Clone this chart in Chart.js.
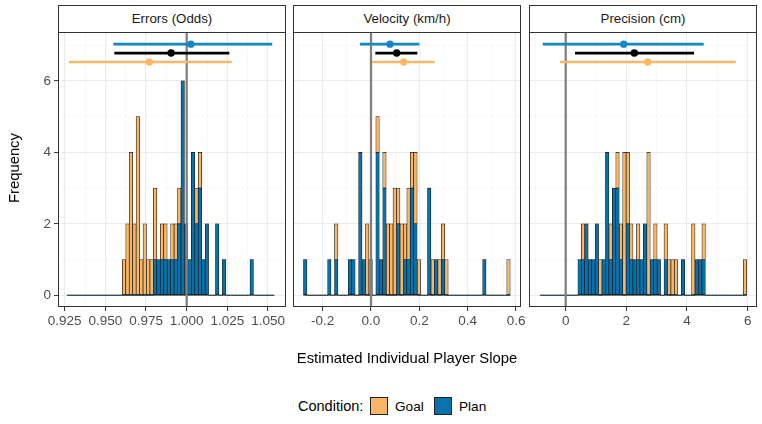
<!DOCTYPE html>
<html>
<head>
<meta charset="utf-8">
<script src="https://cdn.jsdelivr.net/npm/chart.js@4.4.1/dist/chart.umd.min.js"></script>
<style>
  html, body { margin: 0; padding: 0; background: #fff; }
  body { width: 762px; height: 424px; position: relative; overflow: hidden;
         font-family: "Liberation Sans", Arial, sans-serif; color: #000; }
  canvas { position: absolute; }
  .strip { position: absolute; top: 5px; height: 28px; box-sizing: border-box;
           border: 1px solid #333; background: #fff; text-align: center;
           font-size: 13.3px; line-height: 26px; color: #1a1a1a; }
  .txt { position: absolute; white-space: nowrap; font-weight: normal; }
  .key { position: absolute; width: 18px; height: 18px; box-sizing: border-box; border: 1px solid #222; }
</style>
</head>
<body>
<div id="root"></div>
<script>
// ---------- data ----------
const facetTitles = ["Errors (Odds)", "Velocity (km/h)", "Precision (cm)"];
const conditionNames = ["Goal", "Plan"];

// histogram bins (60 bins per facet): left edge of first bin and bin width
const binStart = [0.92649, -0.2793, -0.8474];
const binWidth = [0.002121, 0.014253, 0.11358];

// Errors (Odds) counts per bin
const goalErrors = [0,0,0,0,0,0,0,0,0,0, 0,0,0,0,0,0,1,2,4,2, 5,1,2,1,1,2,0,1,1,0,
                    1,1,1,0,0,0,0,1,1,0, 0,0,0,0,0,0,0,0,0,0, 0,0,0,0,0,0,0,0,0,0];
const planErrors = [0,0,0,0,0,0,0,0,0,0, 0,0,0,0,0,0,0,0,0,0, 0,0,0,0,0,1,1,1,1,1,
                    1,1,2,6,2,1,4,2,3,1, 2,0,0,2,0,1,0,0,0,0, 0,0,0,1,0,0,0,0,0,0];
// Velocity (km/h) counts per bin
const goalVelocity = [0,0,0,0,0,0,0,0,0,1, 0,0,0,0,0,0,0,0,2,1, 0,1,0,1,2,2,3,1,2,1,
                      2,1,2,1,0,0,0,1,0,1, 1,1,0,0,0,0,0,0,0,0, 0,0,0,0,0,0,0,0,0,1];
const planVelocity = [1,0,0,0,0,0,0,1,0,1, 0,0,0,1,1,0,4,1,0,0, 0,4,1,3,0,0,0,2,0,1,
                      1,3,2,0,0,0,3,0,1,0, 1,0,0,0,0,0,0,0,0,0, 0,0,1,0,0,0,0,0,0,0];
// Precision (cm) counts per bin
const goalPrecision = [0,0,0,0,0,0,0,0,0,0, 0,0,1,0,0,0,0,1,0,0, 1,0,1,1,4,2,1,0,1,0,
                       0,4,0,1,0,0,1,1,1,1, 0,0,0,0,2,0,0,1,0,0, 0,0,0,0,0,0,0,0,0,1];
const planPrecision = [0,0,0,0,0,0,0,0,0,0, 0,1,1,2,1,1,2,0,1,4, 1,3,3,1,0,2,1,1,1,1,
                       2,0,1,1,1,0,1,0,0,0, 0,1,0,0,0,1,1,1,0,0, 0,0,0,0,0,0,0,0,0,0];

// estimates [point, low, high] per facet
const planEstimate    = [[1.0026, 0.9549, 1.0526], [0.0786, -0.0455, 0.2000], [1.912, -0.758, 4.550]];
const overallEstimate = [[0.9904, 0.9555, 1.0262], [0.1062,  0.0179, 0.1917], [2.263,  0.307, 4.230]];
const goalEstimate    = [[0.9770, 0.9276, 1.0277], [0.1352,  0.0041, 0.2634], [2.703, -0.188, 5.605]];
const estimateRows = [7.03, 6.78, 6.53];   // plan, overall, goal

// reference lines
const refValues = [1, 0, 0];

// axis ticks
const xMajorErrors = [0.925, 0.950, 0.975, 1.000, 1.025, 1.050];
const xLabelErrors = ["0.925", "0.950", "0.975", "1.000", "1.025", "1.050"];
const xMinorErrors = [0.9375, 0.9625, 0.9875, 1.0125, 1.0375];
const xMajorVelocity = [-0.2, 0.0, 0.2, 0.4, 0.6];
const xLabelVelocity = ["-0.2", "0.0", "0.2", "0.4", "0.6"];
const xMinorVelocity = [-0.3, -0.1, 0.1, 0.3, 0.5];
const xMajorPrecision = [0, 2, 4, 6];
const xLabelPrecision = ["0", "2", "4", "6"];
const xMinorPrecision = [-1, 1, 3, 5];
const yMajor = [0, 2, 4, 6];
const yLabels = ["0", "2", "4", "6"];
const yMinor = [1, 3, 5, 7];

// axis limits
const xLimits = [[0.92087, 1.06105], [-0.3227, 0.6206], [-1.210, 6.307]];
const yLimits = [-0.33, 7.37];

// ---------- style ----------
const GOAL_FILL = "#F9B666";
const PLAN_FILL = "#0872AC";
const GOAL_LINE = "#FDB866";
const PLAN_LINE = "#1388C6";
const ALL_LINE = "#000000";
const FONT = '"Liberation Sans", Arial, sans-serif';
const TICK_SIZE = 13.5;

const panels = [
  { left: 58, goal: goalErrors, plan: planErrors, majors: xMajorErrors, labels: xLabelErrors, minors: xMinorErrors },
  { left: 293, goal: goalVelocity, plan: planVelocity, majors: xMajorVelocity, labels: xLabelVelocity, minors: xMinorVelocity },
  { left: 529, goal: goalPrecision, plan: planPrecision, majors: xMajorPrecision, labels: xLabelPrecision, minors: xMinorPrecision }
];
const PANEL_W = 228, PANEL_TOP = 32, PANEL_H = 275, XAXIS_H = 30, PAD_R = 16;

const root = document.getElementById('root');

const borderPlugin = {
  id: 'panelBorder',
  afterDatasetsDraw(chart) {
    const a = chart.chartArea, c = chart.ctx;
    c.save();
    c.strokeStyle = '#333333';
    c.lineWidth = 1;
    c.strokeRect(Math.round(a.left) + 0.5, Math.round(a.top) + 0.5,
                 Math.round(a.right - a.left) - 1, Math.round(a.bottom - a.top) - 1);
    c.restore();
  }
};

function near(a, b) { return Math.abs(a - b) < 1e-7; }

panels.forEach((p, i) => {
  const showY = i === 0;
  const padL = showY ? p.left : 8;
  const cv = document.createElement('canvas');
  const cw = padL + PANEL_W + PAD_R, ch = PANEL_H + XAXIS_H;
  cv.width = cw; cv.height = ch;
  cv.style.left = (p.left - padL) + 'px';
  cv.style.top = PANEL_TOP + 'px';
  cv.style.width = cw + 'px'; cv.style.height = ch + 'px';
  root.appendChild(cv);

  // strip
  const s = document.createElement('div');
  s.className = 'strip';
  s.style.left = p.left + 'px';
  s.style.width = PANEL_W + 'px';
  s.textContent = facetTitles[i];
  root.appendChild(s);

  const start = binStart[i], w = binWidth[i];
  const centers = p.goal.map((_, k) => start + w * (k + 0.5));
  const histEnd = start + w * p.goal.length;
  const xTicks = p.majors.concat(p.minors).sort((a, b) => a - b);
  const isMajorX = v => p.majors.some(m => near(m, v));
  const isMajorY = v => yMajor.some(m => near(m, v));

  function estLine(est, y, col) {
    return { type: 'line', data: [{ x: est[1], y }, { x: est[0], y }, { x: est[2], y }],
             borderColor: col, backgroundColor: col, borderWidth: 2.7,
             pointRadius: [0, 3.7, 0], pointHoverRadius: 0, pointBackgroundColor: col,
             pointBorderWidth: 0, yAxisID: 'y2', order: 0 };
  }
  const barBorder = ctx => (ctx.raw && ctx.raw.y > 0) ? 0.7 : 0;

  new Chart(cv, {
    type: 'bar',
    data: {
      datasets: [
        { type: 'bar', label: conditionNames[1], data: centers.map((x, k) => ({ x, y: p.plan[k] })),
          backgroundColor: PLAN_FILL, borderColor: '#1a1a1a', borderWidth: barBorder, borderSkipped: false,
          barPercentage: 1, categoryPercentage: 1, order: 4 },
        { type: 'bar', label: conditionNames[0], data: centers.map((x, k) => ({ x, y: p.goal[k] })),
          backgroundColor: GOAL_FILL, borderColor: '#1a1a1a', borderWidth: barBorder, borderSkipped: false,
          barPercentage: 1, categoryPercentage: 1, order: 5 },
        { type: 'line', data: [{ x: start, y: 0 }, { x: histEnd, y: 0 }], borderColor: '#1a1a1a',
          borderWidth: 0.8, pointRadius: 0, yAxisID: 'y2', order: 2 },
        { type: 'line', data: [{ x: refValues[i], y: yLimits[0] }, { x: refValues[i], y: yLimits[1] }],
          borderColor: '#808080', borderWidth: 2.3, pointRadius: 0, yAxisID: 'y2', order: 1 },
        estLine(planEstimate[i], estimateRows[0], PLAN_LINE),
        estLine(overallEstimate[i], estimateRows[1], ALL_LINE),
        estLine(goalEstimate[i], estimateRows[2], GOAL_LINE)
      ]
    },
    options: {
      responsive: false, animation: false, devicePixelRatio: 1,
      layout: { padding: { left: 0, right: PAD_R, top: 0, bottom: 0 } },
      plugins: { legend: { display: false }, tooltip: { enabled: false }, title: { display: false } },
      events: [],
      scales: {
        x: {
          type: 'linear', min: xLimits[i][0], max: xLimits[i][1], offset: false, stacked: true,
          afterBuildTicks: sc => { sc.ticks = xTicks.map(v => ({ value: v })); },
          afterFit: sc => { sc.height = XAXIS_H; sc.paddingLeft = 0; sc.paddingRight = 0; },
          ticks: {
            autoSkip: false, maxRotation: 0, minRotation: 0, padding: 2,
            color: '#4D4D4D', font: { family: FONT, size: TICK_SIZE },
            callback: v => { const j = p.majors.findIndex(m => near(m, v)); return j >= 0 ? p.labels[j] : ''; }
          },
          grid: {
            offset: false, drawTicks: true, tickLength: 4,
            color: c => (c.tick && isMajorX(c.tick.value)) ? '#EBEBEB' : '#F3F3F3',
            lineWidth: c => (c.tick && isMajorX(c.tick.value)) ? 1.1 : 0.6,
            tickColor: c => (c.tick && isMajorX(c.tick.value)) ? '#333333' : 'rgba(0,0,0,0)',
            tickWidth: 1
          },
          border: { display: false }
        },
        y: {
          type: 'linear', min: yLimits[0], max: yLimits[1], stacked: true,
          afterBuildTicks: sc => { sc.ticks = yMajor.concat(yMinor).sort((a, b) => a - b).map(v => ({ value: v })); },
          afterFit: sc => { sc.width = padL; sc.paddingTop = 0; sc.paddingBottom = 0; },
          ticks: {
            display: showY, autoSkip: false, padding: 3,
            color: '#4D4D4D', font: { family: FONT, size: TICK_SIZE },
            callback: v => { const j = yMajor.findIndex(m => near(m, v)); return j >= 0 ? yLabels[j] : ''; }
          },
          grid: {
            drawTicks: showY, tickLength: 4,
            color: c => (c.tick && isMajorY(c.tick.value)) ? '#EBEBEB' : '#F3F3F3',
            lineWidth: c => (c.tick && isMajorY(c.tick.value)) ? 1.1 : 0.6,
            tickColor: c => (c.tick && isMajorY(c.tick.value)) ? '#333333' : 'rgba(0,0,0,0)',
            tickWidth: 1
          },
          border: { display: false }
        },
        y2: { type: 'linear', min: yLimits[0], max: yLimits[1], display: false, stacked: false }
      }
    },
    plugins: [borderPlugin]
  });
});

// axis titles and legend
function addText(txt, css) {
  const d = document.createElement('div');
  d.className = 'txt';
  d.textContent = txt;
  Object.assign(d.style, css);
  root.appendChild(d);
  return d;
}
addText('Frequency', { left: '14px', top: '168px', fontSize: '14.8px', color: '#000',
  transform: 'translate(-50%, -50%) rotate(-90deg)' });
addText('Estimated Individual Player Slope', { left: '407px', top: '358px', fontSize: '14.8px',
  transform: 'translate(-50%, -50%)' });
addText('Condition:', { left: '298px', top: '406px', fontSize: '14.5px', transform: 'translateY(-50%)' });
const k1 = document.createElement('div'); k1.className = 'key';
Object.assign(k1.style, { left: '370px', top: '397px', background: GOAL_FILL }); root.appendChild(k1);
addText(conditionNames[0], { left: '395px', top: '406px', fontSize: '13.6px', transform: 'translateY(-50%)' });
const k2 = document.createElement('div'); k2.className = 'key';
Object.assign(k2.style, { left: '434px', top: '397px', background: PLAN_FILL }); root.appendChild(k2);
addText(conditionNames[1], { left: '459px', top: '406px', fontSize: '13.6px', transform: 'translateY(-50%)' });
</script>
</body>
</html>
